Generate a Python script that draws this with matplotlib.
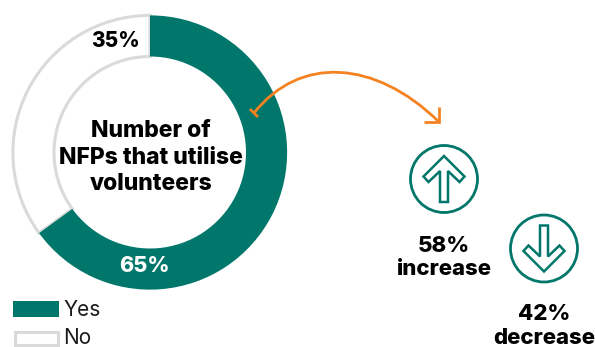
#!/usr/bin/env python

import matplotlib
matplotlib.use('Agg')
import matplotlib.pyplot as plt
from matplotlib.patches import Circle, Polygon, Rectangle, PathPatch
from matplotlib.path import Path

categories = ['Yes', 'No']
shares = [65, 35]
centre_lines = ['Number of', 'NFPs that utilise', 'volunteers']
changes = ['increase', 'decrease']
change_shares = [58, 42]

TEAL = '#00776A'
GREY = '#DADADA'
ORANGE = '#F58220'
W, H = 595, 347

plt.rcParams['font.family'] = ['Inter', 'DejaVu Sans']

fig = plt.figure(figsize=(W / 100, H / 100), dpi=100)

# overlay in pixel units for the annotations and icons
ax = fig.add_axes([0, 0, 1, 1], zorder=2)
ax.set_xlim(0, W)
ax.set_ylim(H, 0)
ax.axis('off')
ax.patch.set_alpha(0)

# donut
cx, cy, r = 150, 152.5, 138.5
pie_ax = fig.add_axes([(cx - r) / W, 1 - (cy + r) / H, 2 * r / W, 2 * r / H], zorder=1)
wedges, _ = pie_ax.pie(shares, startangle=90, counterclock=False, radius=1,
                       colors=[TEAL, 'white'], wedgeprops={'width': 0.3})
wedges[0].set_zorder(3)
wedges[1].set(edgecolor=GREY, linewidth=2.2, zorder=2)
pie_ax.set_xlim(-1.01, 1.01)
pie_ax.set_ylim(-1.01, 1.01)


def bold(x, y, s, size, color='black'):
    ax.text(x, y, s, ha='center', va='baseline', fontsize=size, fontweight='heavy', color=color)


for y, line in zip([137, 164, 190], centre_lines):
    bold(151, y, line, 16.5)
bold(144, 272.5, '%d%%' % shares[0], 15.5, 'white')
bold(115.5, 47, '%d%%' % shares[1], 15)

# legend
ax.add_patch(Rectangle((13, 301), 46, 16, facecolor=TEAL, edgecolor='none'))
ax.add_patch(Rectangle((15, 332), 43, 13, facecolor='white', edgecolor=GREY, linewidth=2.2))
ax.text(63.5, 316, categories[0], va='baseline', fontsize=15, color='#1a1a1a')
ax.text(63.5, 344, categories[1], va='baseline', fontsize=15, color='#1a1a1a')

# orange connector
curve = Path([(254, 113), (300, 55), (375, 60), (438, 121)],
             [Path.MOVETO, Path.CURVE4, Path.CURVE4, Path.CURVE4])
ax.add_patch(PathPatch(curve, facecolor='none', edgecolor=ORANGE, linewidth=2))
ax.plot([250, 258], [109, 117], color=ORANGE, lw=2, solid_capstyle='butt')
ax.plot([424, 439, 439], [122, 122, 107], color=ORANGE, lw=2, solid_joinstyle='miter',
        solid_capstyle='butt')

# up and down icons
arrow = [(0, -23), (20.5, -2.5), (15.5, 3), (4, -8), (4, 23), (-4, 23), (-4, -8),
         (-15.5, 3), (-20.5, -2.5)]
icons = [(444, 179, 1), (544, 248.5, -1)]
for x, y, sgn in icons:
    ax.add_patch(Circle((x, y), 33.5, facecolor='none', edgecolor=TEAL, linewidth=2))
    ax.add_patch(Polygon([(x + a, y + sgn * b) for a, b in arrow],
                         closed=True, facecolor='none', edgecolor=TEAL, linewidth=1.8))

label_pos = [(444, 252, 275), (544, 320.5, 344)]
for (x, y1, y2), word, val in zip(label_pos, changes, change_shares):
    bold(x, y1, '%d%%' % val, 16)
    bold(x, y2, word, 16)

fig.savefig('out.png', dpi=100)
